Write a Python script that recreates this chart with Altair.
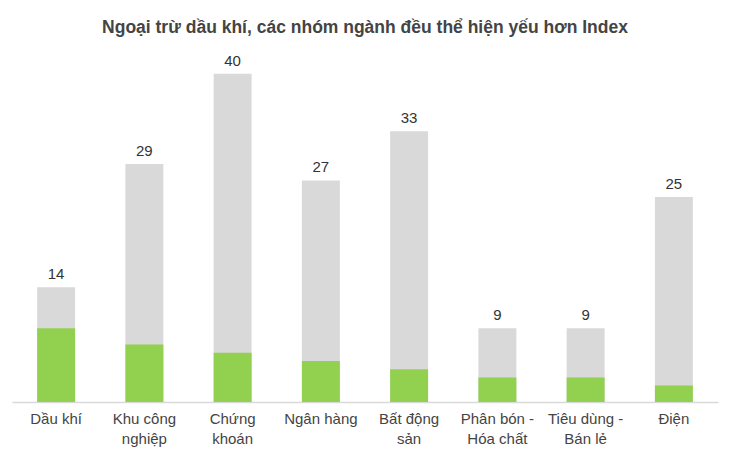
import altair as alt
import pandas as pd

categories = ["Dầu khí", "Khu công|nghiệp", "Chứng|khoán", "Ngân hàng", "Bất động|sản",
              "Phân bón -|Hóa chất", "Tiêu dùng -|Bán lẻ", "Điện"]
totals = [14, 29, 40, 27, 33, 9, 9, 25]
greens = [9, 7, 6, 5, 4, 3, 3, 2]

df = pd.DataFrame({"cat": categories, "total": totals, "green": greens})

FONT = "Liberation Sans"

x = alt.X("cat:N", sort=categories, title=None,
          scale=alt.Scale(paddingInner=0.57, paddingOuter=0.285),
          axis=alt.Axis(labelExpr="split(datum.label, '|')", labelAngle=0,
                        labelFontSize=15, labelColor="#444444", labelFont=FONT,
                        labelPadding=9, labelLineHeight=20, ticks=False,
                        domainColor="#d9d9d9", domainWidth=1.5))
y_scale = alt.Scale(domain=[0, 44], nice=False)

base = alt.Chart(df)
grey = base.mark_bar(color="#d9d9d9").encode(
    x=x, y=alt.Y("total:Q", scale=y_scale, axis=None))
green = base.mark_bar(color="#92d050").encode(
    x=x, y=alt.Y("green:Q", scale=y_scale, axis=None))
labels = base.mark_text(dy=-13, fontSize=15, color="#333333", font=FONT).encode(
    x=x, y=alt.Y("total:Q", scale=y_scale, axis=None), text="total:Q")

chart = alt.layer(grey, green, labels).properties(
    width=706, height=361,
    background="white",
    title=alt.TitleParams("Ngoại trừ dầu khí, các nhóm ngành đều thể hiện yếu hơn Index",
                          fontSize=17.5, font=FONT, fontWeight="bold", color="#444444",
                          anchor="middle", offset=5),
    padding={"left": 4, "right": 4, "top": 10, "bottom": 4},
).configure_view(strokeWidth=0, stroke=None)

chart.save("out.html", embed_options={"renderer": "svg", "actions": False})
